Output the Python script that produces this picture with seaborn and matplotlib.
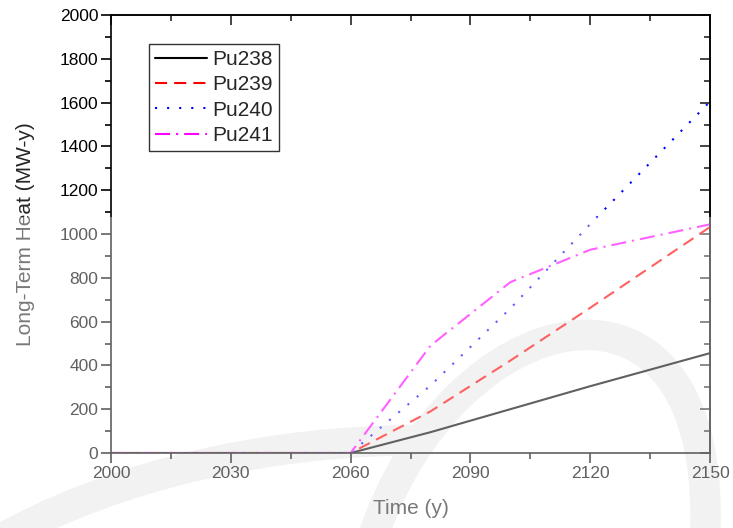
import numpy as np
import pandas as pd
import matplotlib
matplotlib.use("Agg")
import matplotlib.pyplot as plt
import matplotlib.transforms as mtransforms
from matplotlib.patches import Rectangle, PathPatch
from matplotlib.path import Path
from matplotlib.ticker import MultipleLocator, FixedLocator
import seaborn as sns

# Long-term decay heat of plutonium isotopes (MW-y)
years = [2000, 2020, 2040, 2060, 2080, 2100, 2120, 2150]
pu238 = [0, 0, 0, 0, 95, 200, 305, 456]
pu239 = [0, 0, 0, 0, 190, 422, 663, 1032]
pu240 = [0, 0, 0, 0, 308, 660, 1045, 1605]
pu241 = [0, 0, 0, 0, 490, 780, 928, 1044]
isotopes = ["Pu238", "Pu239", "Pu240", "Pu241"]
x_ticks = [2000, 2030, 2060, 2090, 2120, 2150]

df = pd.DataFrame({
    "Time": years * 4,
    "Heat": pu238 + pu239 + pu240 + pu241,
    "Isotope": np.repeat(isotopes, len(years)),
})

sns.set_style("ticks")
plt.rcParams["font.family"] = ["Liberation Sans", "DejaVu Sans"]
plt.rcParams["axes.linewidth"] = 1.2

W, H = 733, 528
fig = plt.figure(figsize=(W / 100, H / 100), dpi=100)
fig.patch.set_facecolor("white")
ax = fig.add_axes([111 / W, 75 / H, 599 / W, 438 / H])
ax.patch.set_alpha(0)

# faint background swoosh (pixel coordinates, origin top-left)
px = mtransforms.Affine2D().scale(1 / W, -1 / H).translate(0, 1) + fig.transFigure
swooshes = [
    [(372, 540), (450, 300), (720, 235), (705, 540)],
    [(-10, 545), (120, 470), (280, 440), (425, 440)],
]
for pts in swooshes:
    path = Path(pts, [Path.MOVETO, Path.CURVE4, Path.CURVE4, Path.CURVE4])
    fig.add_artist(PathPatch(path, transform=px, facecolor="none",
                             edgecolor="#ebebeb", linewidth=22,
                             capstyle="butt", zorder=-1))

palette = {"Pu238": "#000000", "Pu239": "#ff0000",
           "Pu240": "#0000ff", "Pu241": "#ff00ff"}
dashes = {"Pu238": "", "Pu239": (5.8, 3.4),
          "Pu240": (1, 4.8), "Pu241": (7.2, 2.9, 1, 2.9)}

sns.lineplot(data=df, x="Time", y="Heat", hue="Isotope", style="Isotope",
             palette=palette, dashes=dashes, linewidth=1.5, ax=ax)

minor_x = FixedLocator(np.arange(2000, 2151, 15))
ax.set_xlim(2000, 2150)
ax.set_ylim(0, 2000)
ax.xaxis.set_major_locator(FixedLocator(x_ticks))
ax.xaxis.set_minor_locator(minor_x)
ax.yaxis.set_major_locator(MultipleLocator(200))
ax.yaxis.set_minor_locator(MultipleLocator(100))
ax.tick_params(which="both", direction="out", width=1.2, labelsize=12.5,
               pad=2, colors="black")
ax.tick_params(which="major", length=7)
ax.tick_params(which="minor", length=4)
for sp in ax.spines.values():
    sp.set_visible(True)
    sp.set_color("black")

# inward ticks on the top and right edges
secx = ax.secondary_xaxis("top")
secx.xaxis.set_major_locator(FixedLocator(x_ticks))
secx.xaxis.set_minor_locator(FixedLocator(np.arange(2000, 2151, 15)))
secx.tick_params(which="both", direction="in", labeltop=False, width=1.2)
secx.tick_params(which="major", length=7)
secx.tick_params(which="minor", length=4)
secy = ax.secondary_yaxis("right")
secy.yaxis.set_major_locator(MultipleLocator(200))
secy.yaxis.set_minor_locator(MultipleLocator(100))
secy.tick_params(which="both", direction="in", labelright=False, width=1.2)
secy.tick_params(which="major", length=7)
secy.tick_params(which="minor", length=4)

ax.set_xlabel("Time (y)", fontsize=15, labelpad=13)
ax.set_ylabel("Long-Term Heat (MW-y)", fontsize=15, labelpad=18)

handles, labels = ax.get_legend_handles_labels()
leg = ax.legend(handles, labels, loc="upper left",
                bbox_to_anchor=((149 - 111) / 599, (453 - 44) / 438),
                borderaxespad=0, fontsize=15, handlelength=2.5,
                handletextpad=0.25, borderpad=0.3, labelspacing=0.3,
                frameon=True, fancybox=False, edgecolor="black")
leg.get_frame().set_linewidth(1.0)
for line in leg.get_lines():
    line.set_linewidth(1.5)

# light haze over the lower part of the figure
fig.add_artist(Rectangle((0, 0), 1, (H - 217) / H, transform=fig.transFigure,
                         facecolor="white", edgecolor="none", alpha=0.38,
                         zorder=100))

fig.savefig("out.png", dpi=100, facecolor="white")
